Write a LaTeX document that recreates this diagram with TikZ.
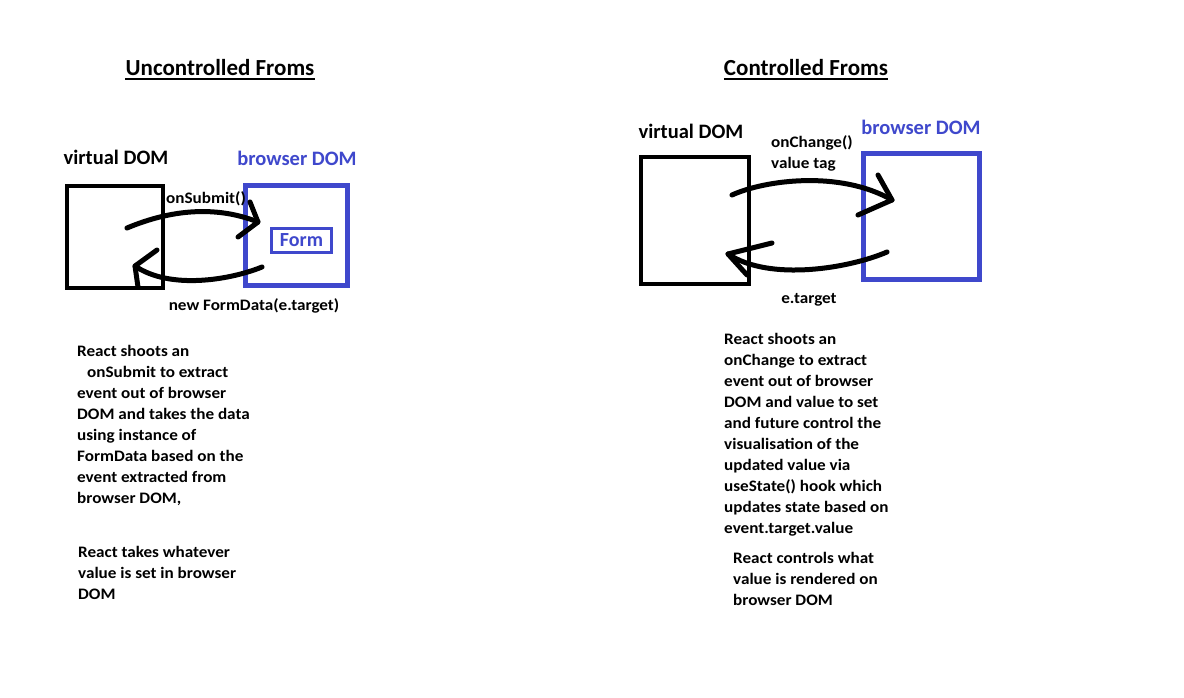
\documentclass[tikz,border=0pt]{standalone}
\usepackage{fontspec}
\setmainfont{Carlito}
\newfontfamily\widefont[FakeStretch=1.07]{Carlito}
\definecolor{pblue}{RGB}{63,72,204}
\begin{document}
\begin{tikzpicture}[x=1pt,y=-1pt,
  body/.style={font=\widefont\bfseries\fontsize{16}{21}\selectfont, align=left, anchor=north west, inner sep=0},
  lbl/.style={font=\bfseries\fontsize{20.5}{24}\selectfont, inner sep=0},
  small/.style={font=\widefont\bfseries\fontsize{16}{21}\selectfont, inner sep=0},
  ttl/.style={font=\bfseries\fontsize{23}{28}\selectfont, inner sep=0},
  vbox/.style={draw=black, line width=4.5, minimum width=#1},
  bbox/.style={draw=pblue, line width=5, minimum width=#1},
  stroke/.style={line width=5, line cap=round, line join=round}
]
\useasboundingbox[fill=white] (0,0) rectangle (1184,698);

% ---------- left: uncontrolled ----------
\node[ttl] (t1) at (220,68) {Uncontrolled Froms};
\draw[line width=2.2] ([yshift=-3]t1.south west) -- ([yshift=-3]t1.south east);

\node[lbl] (v1l) at (116,157) {virtual DOM};
\node[lbl, text=pblue] (b1l) at (297,158) {browser DOM};

\node[vbox=96, minimum height=102] (v1) at (115,237) {};
\node[bbox=102, minimum height=99] (b1) at (296,235.5) {};
\node[draw=pblue, line width=3.5, minimum width=60, minimum height=24, inner sep=0] (form) at (301.5,240.5) {};
\node[font=\bfseries\fontsize{20}{24}\selectfont, inner sep=0, text=pblue] at (form.center) {Form};

\node[small] (sub) at (206,199) {onSubmit()};
\node[small] (fd) at (254,306) {new FormData(e.target)};

\coordinate (a1s) at (127,228);
\coordinate (a1e) at (258,222);
\draw[stroke] (a1s) .. controls (170,210) and (215,205) .. (a1e);
\draw[stroke] (250,202) -- (a1e) -- (238,237);

\coordinate (a2s) at (262,267);
\coordinate (a2e) at (135,266);
\draw[stroke] (a2s) .. controls (230,280) and (170,290) .. (a2e);
\draw[stroke] (157,250) -- (a2e) -- (138,287);

\node[body] (d1) at (77,345) {React shoots an\\
\hspace*{10pt}onSubmit to extract\\
event out of browser\\
DOM and takes the data\\
using instance of\\
FormData based on the\\
event extracted from\\
browser DOM,};
\node[body] (d2) at (78,546) {React takes whatever\\
value is set in browser\\
DOM};

% ---------- right: controlled ----------
\node[ttl] (t2) at (806,68) {Controlled Froms};
\draw[line width=2.2] ([yshift=-3]t2.south west) -- ([yshift=-3]t2.south east);

\node[lbl] (v2l) at (691,131) {virtual DOM};
\node[lbl, text=pblue] (b2l) at (921,127) {browser DOM};

\node[vbox=108, minimum height=127] (v2) at (695,220.5) {};
\node[bbox=116, minimum height=125] (b2) at (921,216.5) {};

\node[small, align=left, anchor=west] (chg) at (771,153.5) {onChange()\\value tag};
\node[small] (et) at (809,300) {e.target};

\coordinate (a3s) at (732,195);
\coordinate (a3e) at (892,200);
\draw[stroke] (a3s) .. controls (765,180) and (840,170) .. (a3e);
\draw[stroke] (878,175) -- (a3e) -- (858,215);

\coordinate (a4s) at (887,252);
\coordinate (a4e) at (728,254);
\draw[stroke] (a4s) .. controls (850,268) and (770,282) .. (a4e);
\draw[stroke] (772,243) -- (a4e) -- (747,275);

\node[body] (d3) at (724,333) {React shoots an\\
onChange to extract\\
event out of browser\\
DOM and value to set\\
and future control the\\
visualisation of the\\
updated value via\\
useState() hook which\\
updates state based on\\
event.target.value};
\node[body] (d4) at (733,552) {React controls what\\
value is rendered on\\
browser DOM};
\end{tikzpicture}
\end{document}
